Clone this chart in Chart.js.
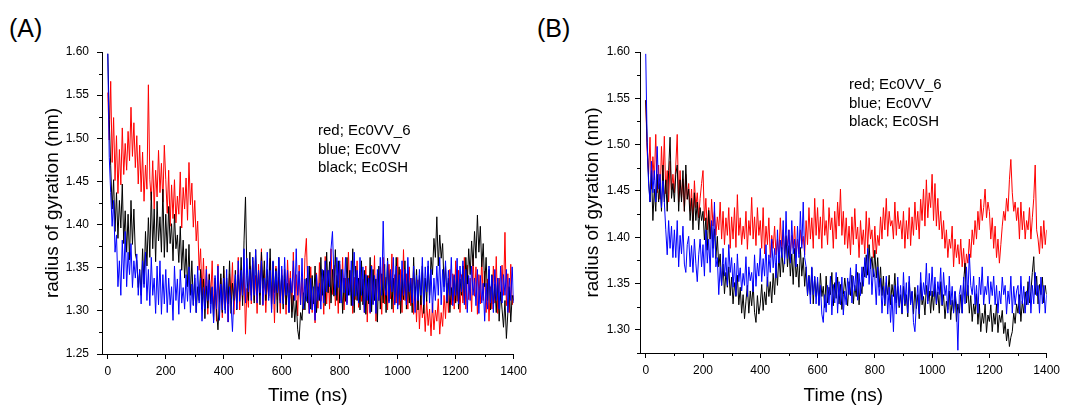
<!DOCTYPE html>
<html><head><meta charset="utf-8">
<script src="https://cdn.jsdelivr.net/npm/chart.js@4.4.1/dist/chart.umd.min.js"></script>
<style>
html,body{margin:0;padding:0;background:#fff;width:1065px;height:406px;overflow:hidden;font-family:"Liberation Sans",Arial,sans-serif;}
.panel{position:absolute;top:0;}
.lbl{position:absolute;font-size:25px;line-height:25px;color:#000;}
.leg{position:absolute;font-size:15px;line-height:18.5px;color:#000;white-space:nowrap;}
</style></head><body>
<div class="lbl" style="left:9px;top:16px">(A)</div>
<div class="lbl" style="left:537px;top:16px">(B)</div>
<canvas id="cA" class="panel" style="left:0" width="532" height="406"></canvas>
<canvas id="cB" class="panel" style="left:532px" width="533" height="406"></canvas>
<div class="leg" style="left:318px;top:121px">red; Ec0VV_6<br>blue; Ec0VV<br>black; Ec0SH</div>
<div class="leg" style="left:849px;top:75px">red; Ec0VV_6<br>blue; Ec0VV<br>black; Ec0SH</div>
<script>
// time axis (ns), one sample every 5 ns
const times = Array.from({length:281}, (_, i) => i * 5);
const xTicks = [0,200,400,600,800,1000,1200,1400];
const xMinor = [100,300,500,700,900,1100,1300];
const yTicksA = [1.25,1.30,1.35,1.40,1.45,1.50,1.55,1.60];
const yMinorA = [1.275,1.325,1.375,1.425,1.475,1.525,1.575];
const yTicksB = [1.30,1.35,1.40,1.45,1.50,1.55,1.60];
const yMinorB = [1.275,1.325,1.375,1.425,1.475,1.525,1.575];

// Panel A (radius of gyration, nm)
const redA = [
1.553,1.498,1.566,1.472,1.524,1.451,1.503,1.436,1.487,1.446,1.512,1.458,1.494,1.463,1.508,1.474,1.536,1.479,1.518,1.466,
1.503,1.447,1.492,1.438,1.484,1.427,1.469,1.441,1.562,1.452,1.428,1.474,1.418,1.463,1.432,1.486,1.437,1.471,1.426,1.492,
1.452,1.413,1.463,1.398,1.446,1.407,1.452,1.402,1.433,1.412,1.461,1.396,1.443,1.418,1.454,1.405,1.472,1.423,1.448,1.397,
1.428,1.381,1.404,1.347,1.372,1.318,1.361,1.307,1.352,1.296,1.343,1.314,1.358,1.302,1.334,1.288,1.354,1.311,1.338,1.292,
1.347,1.303,1.328,1.287,1.343,1.314,1.356,1.296,1.332,1.309,1.362,1.301,1.338,1.312,1.349,1.273,1.326,1.304,1.352,1.308,
1.358,1.312,1.341,1.297,1.354,1.318,1.372,1.306,1.347,1.298,1.336,1.315,1.361,1.302,1.343,1.286,1.352,1.313,1.339,1.297,
1.348,1.309,1.337,1.296,1.359,1.321,1.346,1.299,1.368,1.312,1.342,1.294,1.353,1.307,1.338,1.301,1.362,1.384,1.318,1.297,
1.351,1.298,1.327,1.286,1.344,1.303,1.356,1.311,1.337,1.296,1.363,1.308,1.347,1.302,1.372,1.319,1.353,1.306,1.341,1.297,
1.354,1.312,1.362,1.301,1.338,1.309,1.368,1.322,1.347,1.297,1.339,1.313,1.358,1.304,1.346,1.311,1.337,1.298,1.352,1.287,
1.341,1.297,1.353,1.308,1.364,1.288,1.343,1.312,1.351,1.296,1.362,1.308,1.339,1.301,1.354,1.314,1.366,1.298,1.342,1.309,
1.362,1.307,1.348,1.298,1.371,1.312,1.343,1.302,1.351,1.306,1.338,1.296,1.328,1.287,1.336,1.279,1.318,1.292,1.308,1.276,
1.312,1.283,1.302,1.271,1.309,1.278,1.301,1.288,1.314,1.273,1.298,1.282,1.318,1.291,1.332,1.298,1.348,1.307,1.343,1.302,
1.358,1.311,1.347,1.298,1.342,1.309,1.362,1.302,1.353,1.313,1.338,1.299,1.364,1.317,1.351,1.296,1.342,1.308,1.361,1.312,
1.346,1.298,1.337,1.288,1.328,1.302,1.352,1.309,1.363,1.297,1.338,1.312,1.353,1.318,1.391,1.306,1.343,1.298,1.354,1.307,
1.318];
const blackA = [
1.598,1.522,1.468,1.418,1.452,1.392,1.437,1.384,1.428,1.396,1.447,1.378,1.416,1.368,1.412,1.359,1.428,1.377,1.418,1.366,
1.358,1.327,1.348,1.318,1.372,1.331,1.392,1.352,1.408,1.362,1.438,1.372,1.418,1.357,1.427,1.381,1.409,1.368,1.441,1.362,
1.412,1.368,1.421,1.378,1.401,1.358,1.412,1.372,1.388,1.356,1.398,1.347,1.382,1.338,1.372,1.328,1.377,1.318,1.358,1.307,
1.338,1.298,1.328,1.312,1.348,1.302,1.337,1.291,1.329,1.303,1.342,1.308,1.327,1.289,1.338,1.301,1.278,1.312,1.343,1.298,
1.352,1.301,1.338,1.308,1.358,1.297,1.332,1.312,1.347,1.301,1.342,1.318,1.362,1.306,1.382,1.432,1.341,1.312,1.368,1.318,
1.362,1.309,1.371,1.318,1.347,1.307,1.368,1.326,1.358,1.312,1.348,1.317,1.372,1.308,1.357,1.321,1.349,1.298,1.362,1.312,
1.341,1.302,1.348,1.307,1.332,1.298,1.338,1.292,1.318,1.287,1.312,1.278,1.267,1.298,1.289,1.321,1.301,1.338,1.309,1.352,
1.302,1.341,1.308,1.352,1.298,1.328,1.312,1.362,1.318,1.347,1.306,1.368,1.321,1.357,1.309,1.348,1.317,1.371,1.312,1.358,
1.309,1.348,1.297,1.338,1.311,1.362,1.318,1.347,1.306,1.372,1.298,1.352,1.312,1.338,1.301,1.358,1.307,1.347,1.296,1.341,
1.308,1.362,1.299,1.348,1.312,1.337,1.287,1.352,1.302,1.343,1.309,1.354,1.298,1.361,1.311,1.347,1.302,1.338,1.309,1.362,
1.306,1.351,1.297,1.342,1.313,1.358,1.302,1.347,1.309,1.338,1.298,1.362,1.312,1.348,1.301,1.341,1.307,1.352,1.297,1.338,
1.311,1.352,1.318,1.362,1.342,1.384,1.362,1.409,1.352,1.388,1.361,1.378,1.328,1.352,1.309,1.338,1.298,1.327,1.312,1.341,
1.309,1.348,1.302,1.337,1.318,1.352,1.312,1.362,1.331,1.372,1.342,1.381,1.352,1.392,1.361,1.411,1.368,1.398,1.351,1.378,
1.328,1.362,1.312,1.348,1.301,1.342,1.308,1.331,1.298,1.338,1.288,1.322,1.302,1.281,1.312,1.268,1.298,1.328,1.287,1.318,
1.312];
const blueA = [
1.598,1.478,1.437,1.398,1.428,1.368,1.388,1.328,1.358,1.318,1.382,1.337,1.392,1.328,1.368,1.342,1.378,1.327,1.358,1.338,
1.366,1.318,1.347,1.308,1.358,1.327,1.368,1.312,1.348,1.306,1.362,1.318,1.338,1.297,1.352,1.307,1.358,1.296,1.342,1.308,
1.348,1.298,1.338,1.307,1.328,1.289,1.352,1.312,1.337,1.296,1.348,1.309,1.327,1.302,1.342,1.311,1.351,1.298,1.331,1.306,
1.342,1.298,1.352,1.309,1.338,1.288,1.327,1.302,1.348,1.312,1.336,1.297,1.328,1.286,1.341,1.302,1.352,1.289,1.331,1.301,
1.338,1.297,1.348,1.287,1.328,1.309,1.276,1.318,1.342,1.302,1.358,1.311,1.347,1.318,1.372,1.309,1.361,1.322,1.348,1.312,
1.362,1.318,1.371,1.309,1.347,1.321,1.358,1.307,1.338,1.319,1.368,1.312,1.347,1.298,1.358,1.308,1.346,1.321,1.362,1.309,
1.352,1.308,1.362,1.318,1.347,1.298,1.338,1.321,1.358,1.312,1.372,1.318,1.346,1.307,1.361,1.302,1.337,1.311,1.352,1.297,
1.338,1.301,1.328,1.289,1.342,1.312,1.332,1.302,1.348,1.309,1.358,1.322,1.347,1.328,1.372,1.392,1.341,1.318,1.362,1.327,
1.358,1.309,1.348,1.321,1.362,1.307,1.338,1.318,1.358,1.306,1.368,1.317,1.347,1.309,1.362,1.318,1.351,1.298,1.342,1.312,
1.338,1.298,1.352,1.307,1.341,1.297,1.348,1.312,1.362,1.318,1.404,1.328,1.318,1.358,1.309,1.348,1.322,1.362,1.307,1.352,
1.302,1.342,1.312,1.358,1.318,1.348,1.307,1.362,1.322,1.338,1.309,1.352,1.298,1.341,1.312,1.348,1.318,1.362,1.307,1.351,
1.322,1.358,1.309,1.348,1.298,1.338,1.312,1.352,1.318,1.362,1.307,1.348,1.322,1.358,1.311,1.347,1.318,1.362,1.306,1.342,
1.318,1.361,1.308,1.352,1.322,1.358,1.307,1.348,1.298,1.341,1.312,1.352,1.318,1.338,1.306,1.348,1.297,1.341,1.309,1.332,
1.288,1.332,1.302,1.352,1.309,1.341,1.298,1.348,1.312,1.338,1.302,1.352,1.309,1.342,1.318,1.348,1.298,1.338,1.312,1.351,
1.309];

// Panel B (radius of gyration, nm)
const redB = [
1.548,1.492,1.468,1.508,1.452,1.487,1.462,1.511,1.448,1.478,1.441,1.498,1.458,1.509,1.447,1.472,1.438,1.482,1.451,1.468,
1.448,1.478,1.511,1.438,1.472,1.442,1.463,1.428,1.468,1.441,1.458,1.428,1.452,1.418,1.461,1.432,1.448,1.421,1.442,1.458,
1.472,1.418,1.442,1.408,1.432,1.398,1.441,1.412,1.428,1.402,1.422,1.408,1.438,1.398,1.428,1.392,1.421,1.402,1.432,1.388,
1.422,1.398,1.432,1.389,1.446,1.402,1.421,1.392,1.412,1.398,1.428,1.387,1.418,1.402,1.443,1.398,1.422,1.391,1.432,1.402,
1.418,1.388,1.432,1.382,1.412,1.392,1.421,1.378,1.402,1.388,1.412,1.381,1.398,1.378,1.421,1.387,1.408,1.382,1.402,1.391,
1.408,1.382,1.402,1.388,1.412,1.378,1.398,1.382,1.408,1.392,1.401,1.381,1.418,1.392,1.432,1.398,1.421,1.388,1.442,1.402,
1.432,1.398,1.422,1.388,1.441,1.402,1.418,1.392,1.432,1.408,1.421,1.388,1.428,1.398,1.438,1.412,1.452,1.402,1.428,1.392,
1.421,1.388,1.412,1.381,1.422,1.392,1.431,1.398,1.411,1.378,1.418,1.392,1.408,1.382,1.428,1.388,1.421,1.398,1.408,1.378,
1.412,1.382,1.402,1.391,1.422,1.398,1.432,1.408,1.442,1.401,1.428,1.412,1.418,1.398,1.438,1.402,1.428,1.409,1.418,1.398,
1.428,1.388,1.418,1.398,1.432,1.391,1.422,1.402,1.438,1.408,1.428,1.398,1.441,1.418,1.452,1.412,1.462,1.421,1.448,1.432,
1.468,1.418,1.458,1.412,1.442,1.408,1.428,1.398,1.418,1.388,1.408,1.378,1.398,1.388,1.412,1.368,1.398,1.378,1.392,1.371,
1.398,1.368,1.388,1.361,1.382,1.372,1.398,1.378,1.408,1.392,1.418,1.398,1.428,1.408,1.441,1.418,1.432,1.452,1.421,1.438,
1.428,1.398,1.421,1.388,1.412,1.378,1.398,1.372,1.392,1.412,1.428,1.418,1.442,1.428,1.462,1.484,1.448,1.428,1.438,1.418,
1.432,1.398,1.438,1.408,1.428,1.398,1.418,1.408,1.432,1.398,1.421,1.442,1.478,1.408,1.398,1.382,1.412,1.388,1.418,1.392,
1.408];
const blackB = [
1.548,1.502,1.462,1.438,1.472,1.418,1.452,1.428,1.468,1.438,1.458,1.428,1.478,1.438,1.462,1.428,1.472,1.508,1.442,1.458,
1.438,1.468,1.478,1.428,1.462,1.438,1.472,1.428,1.478,1.441,1.452,1.418,1.442,1.408,1.448,1.418,1.438,1.408,1.432,1.418,
1.428,1.397,1.421,1.386,1.429,1.398,1.417,1.388,1.409,1.377,1.401,1.368,1.382,1.348,1.371,1.339,1.362,1.346,1.368,1.337,
1.357,1.328,1.351,1.336,1.359,1.327,1.346,1.318,1.338,1.312,1.331,1.348,1.318,1.342,1.326,1.349,1.319,1.308,1.337,1.317,
1.328,1.349,1.321,1.341,1.327,1.357,1.336,1.352,1.329,1.361,1.338,1.372,1.348,1.381,1.357,1.389,1.362,1.378,1.401,1.368,
1.391,1.358,1.382,1.349,1.388,1.357,1.371,1.346,1.389,1.358,1.378,1.347,1.368,1.337,1.359,1.338,1.367,1.328,1.357,1.336,
1.352,1.327,1.361,1.336,1.347,1.324,1.358,1.329,1.346,1.338,1.362,1.326,1.351,1.334,1.357,1.328,1.349,1.322,1.338,1.356,
1.341,1.326,1.352,1.337,1.359,1.328,1.348,1.336,1.362,1.327,1.351,1.339,1.368,1.357,1.381,1.359,1.392,1.366,1.379,1.357,
1.386,1.356,1.378,1.346,1.368,1.337,1.358,1.326,1.351,1.338,1.359,1.327,1.349,1.336,1.361,1.329,1.347,1.324,1.338,1.317,
1.347,1.326,1.338,1.314,1.352,1.329,1.341,1.317,1.346,1.323,1.338,1.312,1.351,1.327,1.336,1.316,1.348,1.331,1.342,1.318,
1.342,1.321,1.349,1.327,1.341,1.318,1.352,1.326,1.338,1.312,1.331,1.322,1.342,1.311,1.332,1.319,1.341,1.309,1.328,1.318,
1.338,1.318,1.351,1.372,1.329,1.348,1.318,1.337,1.309,1.328,1.317,1.339,1.306,1.328,1.298,1.318,1.307,1.328,1.297,1.316,
1.309,1.327,1.298,1.318,1.306,1.328,1.297,1.316,1.308,1.321,1.296,1.308,1.288,1.301,1.282,1.292,1.298,1.318,1.307,1.328,
1.318,1.338,1.309,1.331,1.318,1.341,1.327,1.352,1.329,1.341,1.362,1.379,1.338,1.358,1.328,1.349,1.338,1.357,1.329,1.348,
1.338];
const blueB = [
1.598,1.502,1.458,1.438,1.482,1.448,1.472,1.438,1.498,1.452,1.468,1.432,1.461,1.438,1.408,1.381,1.418,1.388,1.412,1.378,
1.408,1.378,1.418,1.368,1.402,1.382,1.412,1.371,1.362,1.392,1.401,1.368,1.391,1.362,1.398,1.372,1.352,1.381,1.398,1.368,
1.392,1.358,1.408,1.372,1.398,1.362,1.418,1.378,1.438,1.368,1.378,1.338,1.368,1.348,1.388,1.358,1.378,1.348,1.392,1.362,
1.378,1.346,1.372,1.337,1.382,1.352,1.367,1.342,1.361,1.348,1.379,1.336,1.368,1.353,1.362,1.341,1.381,1.347,1.372,1.358,
1.388,1.352,1.377,1.358,1.392,1.347,1.381,1.362,1.398,1.367,1.388,1.356,1.408,1.372,1.397,1.378,1.418,1.371,1.428,1.377,
1.408,1.372,1.418,1.382,1.398,1.368,1.412,1.378,1.428,1.388,1.438,1.378,1.368,1.338,1.358,1.328,1.368,1.338,1.358,1.328,
1.357,1.326,1.348,1.317,1.308,1.338,1.319,1.348,1.327,1.358,1.316,1.349,1.329,1.362,1.318,1.352,1.327,1.357,1.316,1.342,
1.327,1.356,1.338,1.367,1.329,1.358,1.342,1.371,1.332,1.361,1.337,1.368,1.347,1.378,1.356,1.388,1.349,1.377,1.338,1.366,
1.357,1.327,1.368,1.337,1.356,1.318,1.347,1.328,1.358,1.317,1.346,1.308,1.338,1.298,1.348,1.317,1.357,1.326,1.348,1.318,
1.362,1.328,1.351,1.318,1.358,1.327,1.342,1.308,1.298,1.328,1.348,1.317,1.362,1.332,1.351,1.338,1.372,1.328,1.361,1.337,
1.368,1.336,1.357,1.328,1.352,1.338,1.367,1.327,1.362,1.337,1.348,1.318,1.358,1.327,1.347,1.318,1.342,1.328,1.278,1.338,
1.348,1.318,1.357,1.328,1.368,1.337,1.382,1.348,1.338,1.358,1.327,1.348,1.318,1.357,1.338,1.368,1.327,1.347,1.338,1.358,
1.328,1.352,1.337,1.358,1.327,1.348,1.318,1.342,1.328,1.357,1.338,1.348,1.317,1.342,1.328,1.358,1.318,1.347,1.327,1.342,
1.348,1.317,1.358,1.328,1.347,1.318,1.342,1.327,1.358,1.318,1.348,1.328,1.362,1.337,1.348,1.318,1.357,1.328,1.348,1.318,
1.338];

const FONT = '"Liberation Sans", Arial, sans-serif';

const minorTicks = {
  id: 'minorTicks',
  afterDraw(chart, args, opts) {
    const ctx = chart.ctx, xs = chart.scales.x, ys = chart.scales.y;
    ctx.save();
    ctx.strokeStyle = '#000'; ctx.lineWidth = 1;
    ctx.beginPath();
    opts.x.forEach(v => { const p = Math.round(xs.getPixelForValue(v)) + 0.5; ctx.moveTo(p, ys.bottom); ctx.lineTo(p, ys.bottom + 3); });
    opts.y.forEach(v => { const p = Math.round(ys.getPixelForValue(v)) + 0.5; ctx.moveTo(xs.left - 3, p); ctx.lineTo(xs.left, p); });
    ctx.stroke();
    ctx.restore();
  }
};

function series(arr) { return arr.map((v, i) => ({x: times[i], y: v})); }

function makePanel(id, red, blue, black, cfg) {
  new Chart(document.getElementById(id), {
    type: 'line',
    data: { datasets: [
      {data: series(blue), borderColor: '#0000ff'},
      {data: series(black), borderColor: '#000000'},
      {data: series(red), borderColor: '#ff0000'}
    ]},
    options: {
      animation: false, responsive: false, devicePixelRatio: 1,
      layout: {padding: {left: 0, top: 52, right: cfg.padR, bottom: 0}},
      elements: {point: {radius: 0}, line: {borderWidth: 1, tension: 0}},
      plugins: {legend: {display: false}, tooltip: {enabled: false},
        minorTicks: {x: xMinor, y: cfg.yMinor}},
      scales: {
        x: {type: 'linear', min: -20, max: 1400,
          afterBuildTicks: s => { s.ticks = xTicks.map(v => ({value: v})); },
          afterFit: s => { s.height = cfg.xh; },
          grid: {drawOnChartArea: false, drawTicks: true, tickLength: 5, color: '#000', tickColor: '#000'},
          border: {display: true, color: '#000', width: 1},
          ticks: {color: '#000', font: {family: FONT, size: 12}, padding: 5, maxRotation: 0, autoSkip: false, callback: v => String(v)},
          title: {display: true, text: 'Time (ns)', color: '#000', font: {family: FONT, size: 19, lineHeight: 1.05}, padding: 0}
        },
        y: {type: 'linear', min: cfg.yMin, max: 1.60,
          afterBuildTicks: s => { s.ticks = cfg.yTicks.map(v => ({value: v})); },
          afterFit: s => { s.width = cfg.yw; },
          grid: {drawOnChartArea: false, drawTicks: true, tickLength: 5, color: '#000', tickColor: '#000'},
          border: {display: true, color: '#000', width: 1},
          ticks: {color: '#000', font: {family: FONT, size: 12}, padding: cfg.yPad, autoSkip: false, callback: v => v.toFixed(2)},
          title: {display: true, text: 'radius of gyration (nm)', color: '#000', font: {family: FONT, size: 19}, padding: {top: cfg.titlePad, bottom: 0}}
        }
      }
    },
    plugins: [minorTicks]
  });
}

makePanel('cA', redA, blueA, blackA, {padR: 17, xh: 52, yw: 102, yMin: 1.25, yTicks: yTicksA, yMinor: yMinorA, yPad: 8, titlePad: 41.1});
makePanel('cB', redB, blueB, blackB, {padR: 13, xh: 53, yw: 108, yMin: 1.275, yTicks: yTicksB, yMinor: yMinorB, yPad: 5, titlePad: 49.6});
</script>
</body></html>
